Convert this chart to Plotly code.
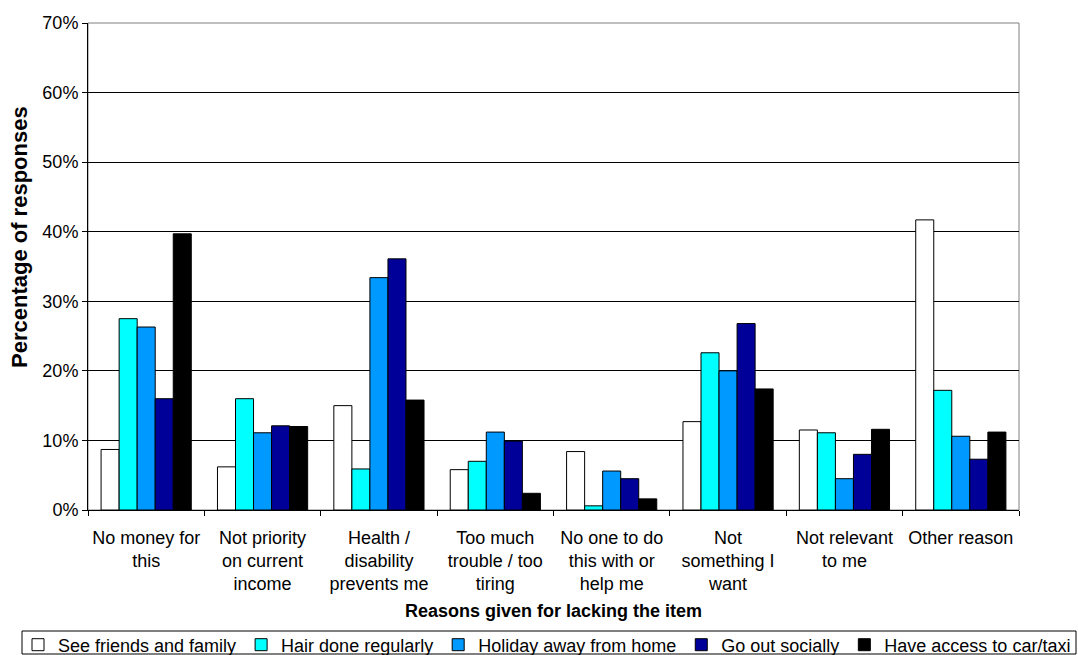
import plotly.graph_objects as go

categories = ["No money for<br>this", "Not priority<br>on current<br>income", "Health /<br>disability<br>prevents me",
              "Too much<br>trouble / too<br>tiring", "No one to do<br>this with or<br>help me", "Not<br>something I<br>want",
              "Not relevant<br>to me", "Other reason"]
see_friends = [8.7, 6.2, 15.0, 5.8, 8.4, 12.7, 11.5, 41.7]
hair_done = [27.5, 16.0, 5.9, 7.0, 0.6, 22.6, 11.1, 17.2]
holiday = [26.3, 11.1, 33.4, 11.2, 5.6, 20.0, 4.5, 10.6]
go_out = [16.0, 12.1, 36.1, 9.9, 4.5, 26.8, 8.0, 7.3]
car_taxi = [39.7, 12.0, 15.8, 2.4, 1.6, 17.4, 11.6, 11.2]

series = [
    ("See friends and family", see_friends, "#FFFFFF"),
    ("Hair done regularly", hair_done, "#00FFFF"),
    ("Holiday away from home", holiday, "#0099FF"),
    ("Go out socially", go_out, "#000099"),
    ("Have access to car/taxi", car_taxi, "#000000"),
]

fig = go.Figure()
for name, vals, col in series:
    fig.add_trace(go.Bar(
        name=name, x=categories, y=[v / 100 for v in vals],
        marker=dict(color=col, line=dict(color="#000000", width=1)),
    ))

font = "Liberation Sans, Arial, sans-serif"
W, H = 1078, 655
PLOT_LEFT, PLOT_RIGHT, PLOT_TOP, PLOT_BOTTOM = 88, 1019, 23, 510


def px_x(p):
    return p / W


def px_y(p):
    return (H - p) / H


fig.update_layout(
    width=W, height=H,
    margin=dict(l=0, r=0, t=0, b=0, autoexpand=False),
    paper_bgcolor="white", plot_bgcolor="white",
    barmode="group", bargap=0.225, bargroupgap=0,
    font=dict(family=font, size=18, color="black"),
    showlegend=True,
    legend=dict(orientation="h", x=px_x(18), y=px_y(645), xanchor="left", yanchor="middle",
                font=dict(family=font, size=18, color="black"),
                bgcolor="rgba(0,0,0,0)", borderwidth=0,
                tracegroupgap=0, traceorder="normal"),
    xaxis=dict(domain=[px_x(PLOT_LEFT), px_x(PLOT_RIGHT)], showline=True, linecolor="black", linewidth=1,
               ticks="outside", tickson="boundaries", ticklen=5, tickcolor="black", showgrid=False,
               tickangle=0, ticklabelstandoff=11, tickfont=dict(size=18), automargin=False),
    yaxis=dict(domain=[px_y(PLOT_BOTTOM), px_y(PLOT_TOP)], range=[0, 0.7], dtick=0.1, tickformat=".0%",
               showline=True, linecolor="black", linewidth=1, ticks="outside", ticklen=5, tickcolor="black",
               showgrid=True, gridcolor="#000000", gridwidth=1, zeroline=False, tickfont=dict(size=18),
               automargin=False),
    annotations=[
        dict(text="<b>Reasons given for lacking the item</b>", xref="x domain", yref="paper",
             x=0.5, y=px_y(611), xanchor="center", yanchor="middle", showarrow=False,
             font=dict(size=18)),
        dict(text="<b>Percentage of responses</b>", xref="paper", yref="paper",
             x=px_x(20), y=px_y(237), xanchor="center", yanchor="middle", showarrow=False,
             textangle=-90, font=dict(size=22)),
    ],
    shapes=[
        dict(type="rect", xref="x domain", yref="y domain", x0=0, x1=1, y0=0, y1=1,
             line=dict(color="#808080", width=1), layer="below"),
        dict(type="rect", xref="paper", yref="paper", x0=px_x(22), x1=px_x(1076),
             y0=px_y(654), y1=px_y(631), line=dict(color="black", width=1)),
    ],
)
fig.write_html("out.html")
